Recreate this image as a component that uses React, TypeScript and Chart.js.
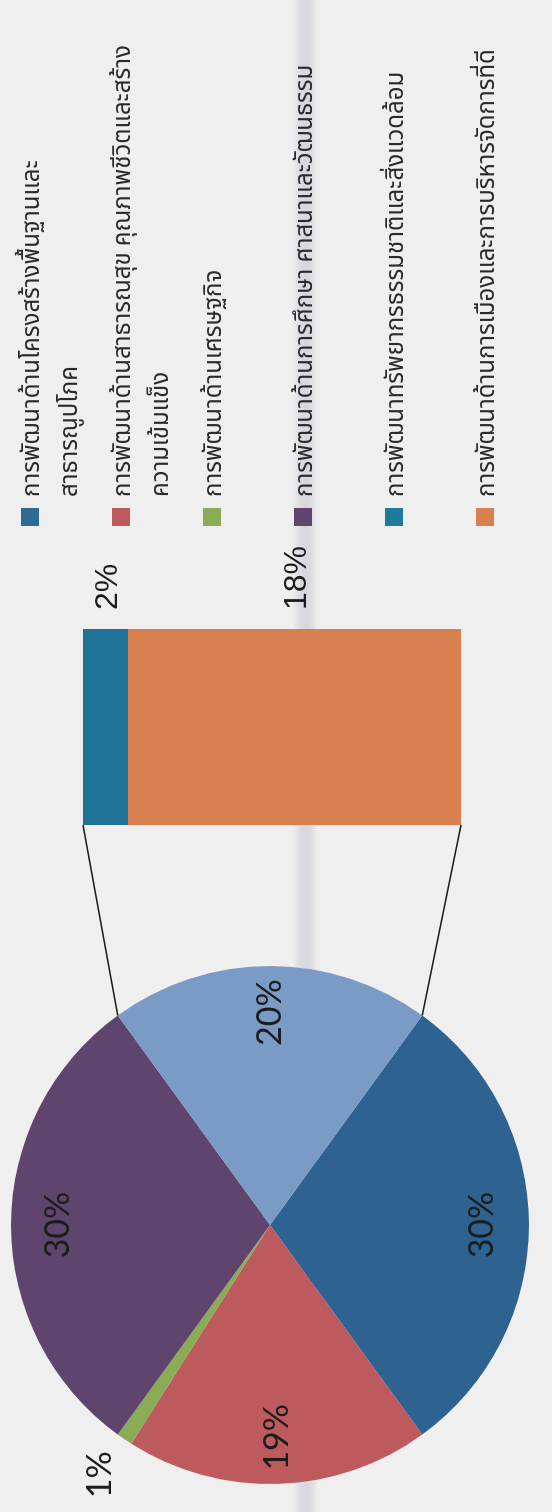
import React, { useEffect, useRef } from "react";
import { Chart, registerables } from "chart.js";

Chart.register(...registerables);

// ---- data ----
const pieCategories = [
  "การพัฒนาด้านโครงสร้างพื้นฐานและสาธารณูปโภค",
  "การพัฒนาด้านสาธารณสุข คุณภาพชีวิตและสร้างความเข้มแข็ง",
  "การพัฒนาด้านเศรษฐกิจ",
  "การพัฒนาด้านการศึกษา ศาสนาและวัฒนธรรม",
  "อื่น ๆ",
];
const pieValues = [30, 19, 1, 30, 20];
const pieColors = ["#2e6290", "#bc5a5e", "#8aac55", "#5f446e", "#7a9bc6"];

const barCategories = [
  "การพัฒนาด้านการเมืองและการบริหารจัดการที่ดี",
  "การพัฒนาทรัพยากรธรรมชาติและสิ่งแวดล้อม",
];
const barValues = [17.6, 2.4];
const barColors = ["#d8804f", "#1f7396"];

const legendLines = [
  ["การพัฒนาด้านโครงสร้างพื้นฐานและ", "สาธารณูปโภค"],
  ["การพัฒนาด้านสาธารณสุข คุณภาพชีวิตและสร้าง", "ความเข้มแข็ง"],
  ["การพัฒนาด้านเศรษฐกิจ"],
  ["การพัฒนาด้านการศึกษา ศาสนาและวัฒนธรรม"],
  ["การพัฒนาทรัพยากรธรรมชาติและสิ่งแวดล้อม"],
  ["การพัฒนาด้านการเมืองและการบริหารจัดการที่ดี"],
];
const legendColors = ["#2e6a92", "#bc5a5e", "#8aac55", "#5f446e", "#1f7a9c", "#d8804f"];

// ---- layout (upright frame, 1512 x 552, then rotated -90deg) ----
const W = 1512;
const H = 552;
const BAR_CANVAS_LEFT = 440;
const BAR_CANVAS_W = 540;
const THAI_FONT = "'Noto Sans Thai', 'Leelawadee UI', Tahoma, 'Noto Sans', 'DejaVu Sans', sans-serif";

export default function App() {
  const pieRef = useRef<HTMLCanvasElement | null>(null);
  const barRef = useRef<HTMLCanvasElement | null>(null);

  useEffect(() => {
    document.body.style.margin = "0";
    const total = pieValues.reduce((a, b) => a + b, 0);

    const pieLabelPlugin = {
      id: "pieLabels",
      afterDatasetsDraw(chart: any) {
        const ctx = chart.ctx;
        const meta = chart.getDatasetMeta(0);
        ctx.save();
        ctx.font = "34px Lato, 'Open Sans', sans-serif";
        ctx.fillStyle = "#1c1c1c";
        ctx.textAlign = "center";
        ctx.textBaseline = "middle";
        meta.data.forEach((arc: any, i: number) => {
          const p = arc.getProps(["x", "y", "startAngle", "endAngle", "outerRadius"], true);
          const mid = (p.startAngle + p.endAngle) / 2;
          const pct = (pieValues[i] / total) * 100;
          const dist = pct < 5 ? p.outerRadius + 43 : p.outerRadius * 0.82;
          ctx.fillText(Math.round(pct) + "%", p.x + Math.cos(mid) * dist, p.y + Math.sin(mid) * dist);
        });
        ctx.restore();
      },
    };

    const legendPlugin = {
      id: "customLegend",
      afterDraw(chart: any) {
        const ctx = chart.ctx;
        ctx.save();
        ctx.font = `24px ${THAI_FONT}`;
        ctx.textAlign = "left";
        ctx.textBaseline = "middle";
        legendLines.forEach((lines, i) => {
          const cy = 30 + i * 91;
          ctx.fillStyle = legendColors[i];
          ctx.fillRect(986, cy - 9, 18, 18);
          ctx.fillStyle = "#2a2a2a";
          lines.forEach((t, j) => {
            ctx.fillText(t, 1015, cy + 4 + j * 38);
          });
        });
        ctx.restore();
      },
    };

    const pieChart = new Chart(pieRef.current as HTMLCanvasElement, {
      type: "pie",
      data: {
        labels: pieCategories,
        datasets: [
          {
            data: pieValues,
            backgroundColor: pieColors,
            borderWidth: 0,
            hoverOffset: 0,
          },
        ],
      },
      options: {
        responsive: false,
        animation: false,
        events: [],
        rotation: 126,
        layout: { padding: { left: 28, top: 11, right: W - 546, bottom: H - 529 } },
        plugins: { legend: { display: false }, tooltip: { enabled: false } },
      },
      plugins: [pieLabelPlugin, legendPlugin],
    });

    const barPlugin = {
      id: "barExtras",
      afterDatasetsDraw(chart: any) {
        const ctx = chart.ctx;
        const area = chart.chartArea;
        ctx.save();
        ctx.font = "32px 'Liberation Sans', Arial, sans-serif";
        ctx.fillStyle = "#1c1c1c";
        ctx.textAlign = "left";
        ctx.textBaseline = "middle";
        let top = Infinity;
        let bottom = -Infinity;
        let left = 0;
        chart.data.datasets.forEach((ds: any, i: number) => {
          const el = chart.getDatasetMeta(i).data[0];
          const p = el.getProps(["x", "y", "base", "width"], true);
          top = Math.min(top, p.y, p.base);
          bottom = Math.max(bottom, p.y, p.base);
          left = p.x - p.width / 2;
          ctx.fillText(Math.round(ds.data[0]) + "%", area.right + 19, (p.y + p.base) / 2 + 2);
        });
        // connectors to the "other" slice of the pie
        const arc = pieChart.getDatasetMeta(0).data[pieValues.length - 1] as any;
        const a = arc.getProps(["x", "y", "startAngle", "endAngle", "outerRadius"], true);
        const ox = a.x - BAR_CANVAS_LEFT;
        ctx.strokeStyle = "#1a1a1a";
        ctx.lineWidth = 1.5;
        ctx.beginPath();
        ctx.moveTo(ox + Math.cos(a.startAngle) * a.outerRadius, a.y + Math.sin(a.startAngle) * a.outerRadius);
        ctx.lineTo(left, top);
        ctx.moveTo(ox + Math.cos(a.endAngle) * a.outerRadius, a.y + Math.sin(a.endAngle) * a.outerRadius);
        ctx.lineTo(left, bottom);
        ctx.stroke();
        ctx.restore();
      },
    };

    const barTotal = barValues.reduce((a, b) => a + b, 0);
    const barChart = new Chart(barRef.current as HTMLCanvasElement, {
      type: "bar",
      data: {
        labels: ["อื่น ๆ"],
        datasets: barValues.map((v, i) => ({
          label: barCategories[i],
          data: [v],
          backgroundColor: barColors[i],
          borderWidth: 0,
          barPercentage: 1,
          categoryPercentage: 1,
        })),
      },
      options: {
        responsive: false,
        animation: false,
        events: [],
        layout: { padding: { left: 687 - BAR_CANVAS_LEFT, right: BAR_CANVAS_LEFT + BAR_CANVAS_W - 883, top: 83, bottom: H - 461 } },
        scales: {
          x: { stacked: true, display: false },
          y: { stacked: true, display: false, min: 0, max: barTotal },
        },
        plugins: { legend: { display: false }, tooltip: { enabled: false } },
      },
      plugins: [barPlugin],
    });

    return () => {
      barChart.destroy();
      pieChart.destroy();
    };
  }, []);

  return (
    <div
      style={{
        position: "relative",
        width: 552,
        height: 1512,
        overflow: "hidden",
        background:
          "linear-gradient(to right, #efefef 0px, #efefef 292px, #dcdce2 300px, #d6d6dc 306px, #dcdce2 311px, #efefef 318px, #efefef 100%)",
      }}
    >
      <div
        style={{
          position: "absolute",
          left: 0,
          top: 0,
          width: W,
          height: H,
          transformOrigin: "0 0",
          transform: `translateY(${W}px) rotate(-90deg)`,
        }}
      >
        <canvas ref={pieRef} width={W} height={H} style={{ position: "absolute", left: 0, top: 0, display: "block" }} />
        <canvas
          ref={barRef}
          width={BAR_CANVAS_W}
          height={H}
          style={{ position: "absolute", left: BAR_CANVAS_LEFT, top: 0, display: "block" }}
        />
      </div>
    </div>
  );
}
